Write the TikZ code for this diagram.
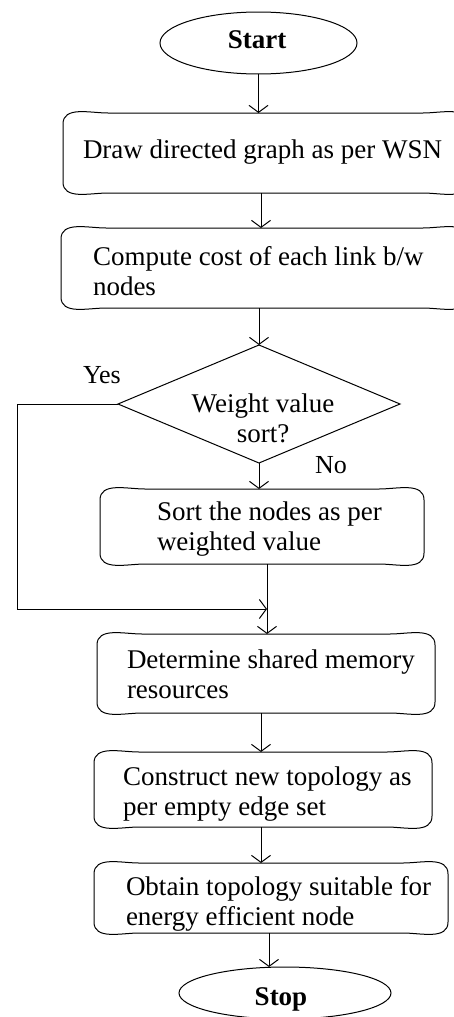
\documentclass[tikz,border=0pt]{standalone}
\usepackage{fontspec}
\setmainfont{Liberation Serif}
\usetikzlibrary{shapes.geometric,arrows.meta,calc}
\newcommand{\flowbox}[1]{%
  \draw[line] ([xshift=45pt]#1.north west) -- ([xshift=-45pt]#1.north east)
    to[out=0,in=90] ([yshift=-11pt]#1.north east)
    -- ([yshift=11pt]#1.south east)
    to[out=-90,in=0] ([xshift=-45pt]#1.south east)
    -- ([xshift=45pt]#1.south west)
    to[out=180,in=-90] ([yshift=11pt]#1.south west)
    -- ([yshift=-11pt]#1.north west)
    to[out=90,in=180] cycle;}
\newcommand{\twolines}[2]{\begin{tabular}[t]{@{}l@{}}#1\\#2\end{tabular}}
\newcommand{\twolinesc}[2]{\begin{tabular}[t]{@{}c@{}}#1\\#2\end{tabular}}
\begin{document}
\begin{tikzpicture}[x=1pt,y=-1pt,
  line/.style={draw=black,line width=1pt},
  arr/.style={line,-{Straight Barb[length=7pt,width=19pt]}},
  boxshape/.style={draw=none,inner sep=0pt,outer sep=0pt},
  term/.style={ellipse,draw=black,line width=1pt,inner sep=0pt,outer sep=0pt},
  decide/.style={diamond,draw=black,line width=1pt,inner sep=0pt,outer sep=0pt},
  txt/.style={inner sep=0pt,outer sep=0pt,font=\fontsize{27}{30.5}\selectfont},
  lbl/.style={inner sep=0pt,outer sep=0pt,font=\fontsize{26}{30}\selectfont}]
\fill[white] (0,0) rectangle (454,1017);
\useasboundingbox (0,0) rectangle (454,1017);

% terminals and decision
\node[term,minimum width=197pt,minimum height=62pt] (start) at (258.5,43) {};
\node[term,minimum width=212pt,minimum height=52pt] (stop) at (285,993) {};
\node[decide,minimum width=282pt,minimum height=118pt] (d) at (259,404) {};

% process boxes
\node[boxshape,minimum width=405pt,minimum height=80pt] (b1) at (265.5,153) {};
\node[boxshape,minimum width=407pt,minimum height=80pt] (b2) at (264.5,268) {};
\node[boxshape,minimum width=324pt,minimum height=75pt] (b3) at (262,526.5) {};
\node[boxshape,minimum width=338pt,minimum height=79pt] (b4) at (266,673.5) {};
\node[boxshape,minimum width=338pt,minimum height=75pt] (b5) at (263,789.5) {};
\node[boxshape,minimum width=354pt,minimum height=70pt] (b6) at (271,898) {};
\flowbox{b1}
\flowbox{b2}
\flowbox{b3}
\flowbox{b4}
\flowbox{b5}
\flowbox{b6}

% texts
\node[txt,anchor=base,font=\fontsize{27}{30.5}\selectfont\bfseries] (tstart) at (257,48) {Start};
\node[txt,anchor=base,font=\fontsize{27}{30.5}\selectfont\bfseries] (tstop) at (281,1005) {Stop};
\node[txt,anchor=base west] (t1) at (83,158) {Draw directed graph as per WSN};
\node[txt,anchor=base west] (t2) at (93,265) {\twolines{Compute cost of each link b/w}{nodes}};
\node[txt,anchor=base] (td) at (263,412) {\twolinesc{Weight value}{sort?}};
\node[txt,anchor=base west] (t3) at (157,520) {\twolines{Sort the nodes as per}{weighted value}};
\node[txt,anchor=base west] (t4) at (127,668) {\twolines{Determine shared memory}{resources}};
\node[txt,anchor=base west] (t5) at (123,785) {\twolines{Construct new topology as}{per empty edge set}};
\node[txt,anchor=base west] (t6) at (126,895) {\twolines{Obtain topology suitable for}{energy efficient node}};
\node[lbl,anchor=base west] (yes) at (83,383) {Yes};
\node[lbl,anchor=base west] (no) at (315,473) {No};

% helper coordinates
\coordinate (m) at (267,609);
\coordinate (yl) at (17,404);

% connectors
\draw[arr] (start.south) -- (start.south |- b1.north);
\draw[arr] ([xshift=-4.5pt]b1.south) -- ([xshift=-4.5pt]b1.south |- b2.north);
\draw[arr] (b2.south -| d.north) -- (d.north);
\draw[arr] (d.south) -- (d.south |- b3.north);
\draw[arr] (b3.south -| m) -- (b4.north -| m);
\draw[arr] (d.west) -- (yl) |- (m);
\draw[arr] ([xshift=-5pt]b4.south) -- ([xshift=-5pt]b4.south |- b5.north);
\draw[arr] ([xshift=-2pt]b5.south) -- ([xshift=-2pt]b5.south |- b6.north);
\draw[arr] ([xshift=-2pt]b6.south) -- ([xshift=-2pt]b6.south |- stop.north);
\end{tikzpicture}
\end{document}
